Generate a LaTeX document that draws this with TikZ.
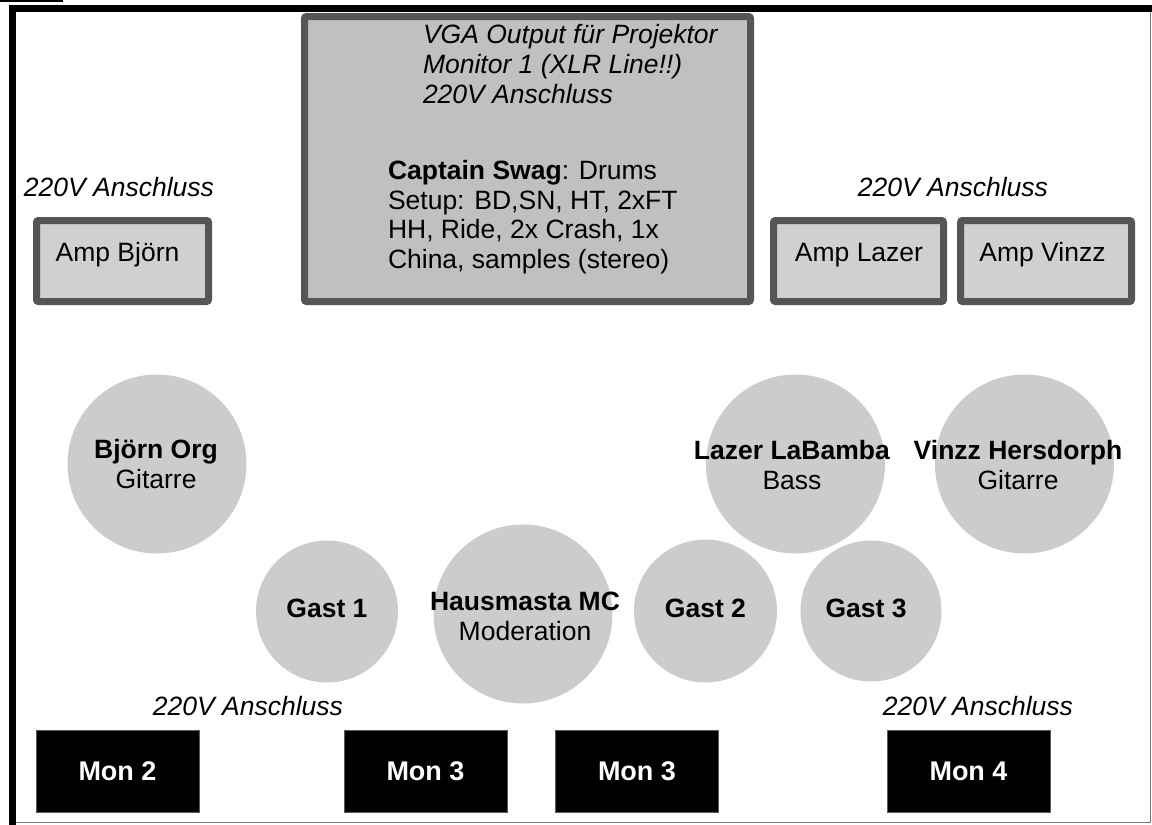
\documentclass[tikz,border=0pt]{standalone}
\usepackage{fontspec}
\setmainfont{Liberation Sans}
\definecolor{boxborder}{RGB}{85,85,85}
\definecolor{ampfill}{RGB}{208,208,208}
\definecolor{drumfill}{RGB}{192,192,192}
\definecolor{personfill}{RGB}{204,204,204}
\definecolor{monborder}{RGB}{90,90,90}
\definecolor{framegray}{RGB}{120,120,120}
\begin{document}
\begin{tikzpicture}[x=1pt,y=-1pt,
  every node/.style={inner sep=0pt, outer sep=0pt},
  big/.style={font=\fontsize{26.5}{30}\selectfont},
  ampbox/.style={draw=boxborder, line width=7pt, fill=ampfill, rounded corners=2pt, minimum height=81pt},
  drumbox/.style={draw=boxborder, line width=7pt, fill=drumfill, rounded corners=2pt, minimum width=446pt, minimum height=285pt},
  person/.style={circle, fill=personfill, draw=none},
  monbox/.style={draw=monborder, line width=1pt, fill=black, minimum width=163pt, minimum height=82pt, text=white, font=\fontsize{27}{30}\selectfont\bfseries},
  powerlabel/.style={big, font=\fontsize{26.5}{30}\selectfont\itshape},
  plabel/.style={big, align=center}]
\useasboundingbox (0,0) rectangle (1152,825);
\fill[white] (0,0) rectangle (1152,825);
% frame
\draw[framegray, line width=1pt] (1150,9) -- (1150,822.5) -- (12,822.5);
\draw[black, line width=7pt] (12,825) -- (12,8.7) -- (1152,8.7);
\draw[black, line width=1.5pt] (0,0.8) -- (63,0.8);
% drum riser
\node[drumbox] (drums) at (527.5,159) {};
\node[powerlabel, anchor=base west, align=left] (drumpower) at (423,103) {VGA Output für Projektor\\Monitor 1 (XLR Line!!)\\220V Anschluss};
\node[big, anchor=base west, align=left, font=\fontsize{26.5}{29.4}\selectfont] (drumtext) at (388,268) {\textbf{Captain Swag}: Drums\\Setup: BD,SN, HT, 2xFT\\HH, Ride, 2x Crash, 1x\\China, samples (stereo)};
% amps
\node[powerlabel] (powerL) at (119,187) {220V Anschluss};
\node[powerlabel] (powerR) at (953,187) {220V Anschluss};
\node[ampbox, minimum width=172pt] (ampbjoern) at (122.5,261) {};
\node[big] (ampbjoernt) at (117.5,255) {Amp Björn};
\node[ampbox, minimum width=170pt] (amplazer) at (858.5,261) {};
\node[big] (amplazert) at (859,255) {Amp Lazer};
\node[ampbox, minimum width=171pt] (ampvinzz) at (1046,261) {};
\node[big] (ampvinzzt) at (1042.5,255) {Amp Vinzz};
% people
\node[person, minimum size=179pt] (bjoern) at (157,464) {};
\node[plabel] (bjoernt) at (156,464) {\textbf{Björn Org}\\Gitarre};
\node[person, minimum size=179pt] (lazer) at (795.5,464) {};
\node[plabel] (lazert) at (792,465) {\textbf{Lazer LaBamba}\\Bass};
\node[person, minimum size=179pt] (vinzz) at (1024.5,464) {};
\node[plabel] (vinzzt) at (1018,465) {\textbf{Vinzz Hersdorph}\\Gitarre};
\node[person, minimum size=142pt] (gast1) at (327,611.5) {};
\node[plabel] (gast1t) at (327,608) {\textbf{Gast 1}};
\node[person, minimum size=179pt] (mc) at (523,614) {};
\node[plabel] (mct) at (525,616) {\textbf{Hausmasta MC}\\Moderation};
\node[person, minimum size=143pt] (gast2) at (705.5,611) {};
\node[plabel] (gast2t) at (705.5,608) {\textbf{Gast 2}};
\node[person, minimum size=141pt] (gast3) at (871,611) {};
\node[plabel] (gast3t) at (866,608) {\textbf{Gast 3}};
% monitors
\node[powerlabel] (powerBL) at (248,706) {220V Anschluss};
\node[powerlabel] (powerBR) at (978,706) {220V Anschluss};
\node[monbox] (mon2) at (117.5,771) {Mon 2};
\node[monbox] (mon3a) at (425.5,771) {Mon 3};
\node[monbox] (mon3b) at (637,771) {Mon 3};
\node[monbox] (mon4) at (968.5,771) {Mon 4};
\end{tikzpicture}
\end{document}
